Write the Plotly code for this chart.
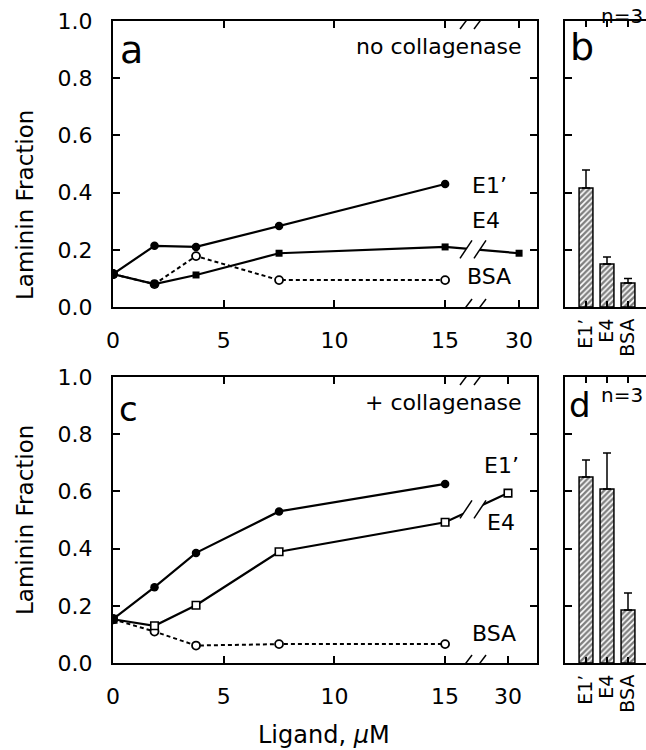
import plotly.graph_objects as go

# ---------------- data ----------------
conc = [0, 1.875, 3.75, 7.5, 15]      # ligand, uM
conc_far = 30                           # point beyond the axis break

a_E1 = [0.115, 0.214, 0.210, 0.283, 0.430]
a_E4 = [0.115, 0.080, 0.112, 0.188, 0.210]
a_E4_far = 0.188
a_BSA = [0.115, 0.080, 0.178, 0.094, 0.094]

c_E1 = [0.153, 0.265, 0.385, 0.530, 0.626]
c_E4 = [0.153, 0.130, 0.202, 0.389, 0.492]
c_E4_far = 0.594
c_BSA = [0.153, 0.110, 0.061, 0.066, 0.066]

bar_cats = ["E1’", "E4", "BSA"]
b_vals = [0.416, 0.150, 0.084]
b_err = [0.063, 0.025, 0.016]
d_vals = [0.650, 0.608, 0.185]
d_err = [0.060, 0.126, 0.060]

x_ticks = [0, 5, 10, 15, 30]
y_ticks = [0, 0.2, 0.4, 0.6, 0.8, 1.0]

# ---------------- layout helpers ----------------
W, H = 646, 750
FONT = "DejaVu Sans"
def xp(px): return px / W
def yp(py): return 1 - py / H

# broken axis: values beyond 15 are compressed
SCALE_A = 3.34 / 15
SCALE_C = 2.84 / 15
def bpos(v, s): return v if v <= 15 else 15 + (v - 15) * s

XMAX = 19.15
BREAK_X = 16.26

fig = go.Figure()

def line_panel(E1, E4, E4far, BSA, s, xa, ya, e4_open):
    xs = [bpos(v, s) for v in conc]
    xs4 = xs + [bpos(conc_far, s)]
    fig.add_trace(go.Scatter(x=xs, y=BSA, xaxis=xa, yaxis=ya, mode="lines+markers",
                             line=dict(color="black", width=2, dash="4px,3px"),
                             marker=dict(symbol="circle", size=8, color="white",
                                         line=dict(color="black", width=1.8)),
                             showlegend=False))
    if e4_open:
        m4 = dict(symbol="square", size=7.5, color="white", line=dict(color="black", width=1.6))
    else:
        m4 = dict(symbol="square", size=7, color="black")
    fig.add_trace(go.Scatter(x=xs4, y=E4 + [E4far], xaxis=xa, yaxis=ya, mode="lines+markers",
                             line=dict(color="black", width=2.2), marker=m4, showlegend=False))
    fig.add_trace(go.Scatter(x=xs, y=E1, xaxis=xa, yaxis=ya, mode="lines+markers",
                             line=dict(color="black", width=2.2),
                             marker=dict(symbol="circle", size=8.5, color="black"),
                             showlegend=False))
    # first point: all series coincide, drawn as one large dot
    fig.add_trace(go.Scatter(x=[xs[0]], y=[E1[0]], xaxis=xa, yaxis=ya, mode="markers",
                             marker=dict(symbol="circle", size=10, color="black"), showlegend=False))

def bar_panel(vals, errs, xa, ya):
    fig.add_trace(go.Bar(x=bar_cats, y=vals, xaxis=xa, yaxis=ya, width=0.66,
                         marker=dict(color="white", line=dict(color="black", width=1.5),
                                     pattern=dict(shape="/", fgcolor="black", bgcolor="white",
                                                  size=4, solidity=0.6)),
                         error_y=dict(type="data", symmetric=False, array=errs,
                                      arrayminus=[0] * len(errs), color="black",
                                      thickness=1.5, width=4),
                         showlegend=False))

line_panel(a_E1, a_E4, a_E4_far, a_BSA, SCALE_A, "x", "y", False)
bar_panel(b_vals, b_err, "x2", "y2")
line_panel(c_E1, c_E4, c_E4_far, c_BSA, SCALE_C, "x3", "y3", True)
bar_panel(d_vals, d_err, "x4", "y4")

XD_L = [xp(113), xp(537)]
XD_R = [xp(565), 1.0]
YD_T = [yp(307), yp(21)]
YD_B = [yp(663), yp(377)]

tickfont = dict(family=FONT, size=22, color="black")

def xline_axis(dom, anchor, s):
    return dict(domain=dom, anchor=anchor, range=[0, XMAX],
                tickvals=[bpos(v, s) for v in x_ticks], ticktext=[str(v) for v in x_ticks],
                ticks="inside", ticklen=7, tickwidth=1.5, tickcolor="black",
                showline=True, linewidth=2, linecolor="black", mirror="ticks",
                showgrid=False, zeroline=False, tickfont=tickfont, ticklabelstandoff=13)

def yline_axis(dom, anchor, labels=True):
    return dict(domain=dom, anchor=anchor, range=[0, 1], tickvals=y_ticks,
                tickformat=".1f", showticklabels=labels,
                ticks="inside", ticklen=7, tickwidth=1.5, tickcolor="black",
                showline=True, linewidth=2, linecolor="black", mirror="ticks" if labels else False,
                showgrid=False, zeroline=False, tickfont=tickfont, ticklabelstandoff=14)

def xbar_axis(dom, anchor):
    return dict(domain=dom, anchor=anchor, type="category", range=[-1, 2.857],
                tickmode="array", tickvals=bar_cats, ticktext=bar_cats,
                ticks="inside", ticklen=6, tickwidth=1.5, tickcolor="black",
                showline=True, linewidth=2, linecolor="black", mirror="ticks",
                showgrid=False, zeroline=False, tickangle=-90,
                tickfont=dict(family=FONT, size=19, color="black"), ticklabelstandoff=2)

def yright_axis(overlay, anchor):
    return dict(overlaying=overlay, anchor=anchor, side="right", range=[0, 1],
                tickvals=y_ticks, showticklabels=False, ticks="inside", ticklen=6,
                tickwidth=1.5, tickcolor="black", showline=False, showgrid=False, zeroline=False)

fig.update_layout(
    width=W, height=H, margin=dict(l=0, r=0, t=0, b=0, autoexpand=False),
    paper_bgcolor="white", plot_bgcolor="white",
    font=dict(family=FONT, color="black"),
    bargap=0.3,
    xaxis=xline_axis(XD_L, "y", SCALE_A),
    yaxis=yline_axis(YD_T, "x"),
    xaxis2=xbar_axis(XD_R, "y2"),
    yaxis2=yline_axis(YD_T, "x2", labels=False),
    xaxis3=xline_axis(XD_L, "y3", SCALE_C),
    yaxis3=yline_axis(YD_B, "x3"),
    xaxis4=xbar_axis(XD_R, "y4"),
    yaxis4=yline_axis(YD_B, "x4", labels=False),
    yaxis5=yright_axis("y2", "x2"),
    yaxis6=yright_axis("y4", "x4"),
)

# ---------------- axis breaks ----------------
shapes = []
def add_break(xa, ya, xc, yc, h=8):
    common = dict(xref=xa, yref=ya, xsizemode="pixel", ysizemode="pixel",
                  xanchor=xc, yanchor=yc, layer="above")
    shapes.append(dict(type="path", path=f"M -13,-{h} L 1,-{h} L 13,{h} L -1,{h} Z",
                       fillcolor="white", line=dict(width=0), **common))
    for dx in (-7, 7):
        shapes.append(dict(type="line", x0=dx - 6, y0=-h, x1=dx + 6, y1=h,
                           line=dict(color="black", width=1.5), **common))

def interp(x0, y0, x1, y1, x):
    return y0 + (y1 - y0) * (x - x0) / (x1 - x0)

for xa, ya, s, E4, far in (("x", "y", SCALE_A, a_E4, a_E4_far), ("x3", "y3", SCALE_C, c_E4, c_E4_far)):
    add_break(xa, ya, BREAK_X, 0)
    add_break(xa, ya, BREAK_X, 1)
    add_break(xa, ya, BREAK_X, interp(15, E4[-1], bpos(conc_far, s), far, BREAK_X), h=9)
fig.update_layout(shapes=shapes)

# ---------------- text ----------------
ann = []
def txt(text, px, py, size, xanchor="center", yanchor="middle", angle=0):
    ann.append(dict(text=text, x=xp(px), y=yp(py), xref="paper", yref="paper",
                    xanchor=xanchor, yanchor=yanchor, showarrow=False, textangle=angle,
                    font=dict(family=FONT, size=size, color="black")))

txt("a", 131, 50, 38)
txt("no collagenase", 524, 46, 22, xanchor="right")
txt("E1’", 470, 185, 22, xanchor="left")
txt("E4", 470, 221, 22, xanchor="left")
txt("BSA", 465, 277, 22, xanchor="left")
txt("b", 582, 47, 38)
txt("n=3", 645, 16, 20, xanchor="right")

txt("c", 128, 409, 34)
txt("+ collagenase", 524, 402, 22, xanchor="right")
txt("E1’", 482, 465, 22, xanchor="left")
txt("E4", 485, 522, 22, xanchor="left")
txt("BSA", 470, 633, 22, xanchor="left")
txt("d", 580, 405, 34)
txt("n=3", 645, 395, 20, xanchor="right")

txt("Laminin Fraction", 25, 205, 23, angle=-90)
txt("Laminin Fraction", 25, 520, 23, angle=-90)
txt("Ligand, <i>μ</i>M", 324, 735, 24)
fig.update_layout(annotations=ann)

fig.write_html("out.html", config={"displayModeBar": False},
               post_script="document.body.style.margin='0';document.body.style.overflow='hidden';")
